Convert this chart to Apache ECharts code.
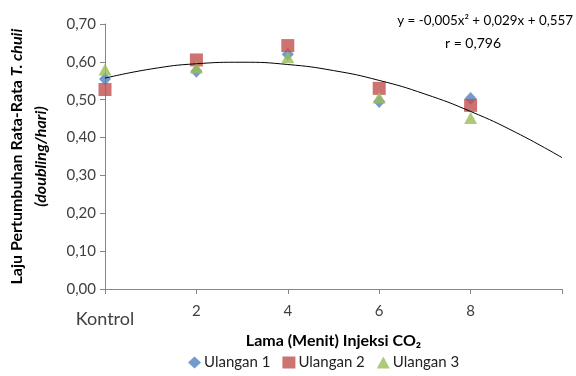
<!DOCTYPE html>
<html>
<head>
<meta charset="utf-8">
<script src="https://cdn.jsdelivr.net/npm/echarts@6/dist/echarts.min.js"></script>
<style>
  html, body { margin: 0; padding: 0; background: #fff; }
  #chart { width: 576px; height: 376px; }
</style>
</head>
<body>
<div id="chart"></div>
<script>
// menit injeksi CO2 (0 = Kontrol)
const minutes = [0, 2, 4, 6, 8]
const ulangan1 = [0.555, 0.575, 0.62, 0.495, 0.503]
const ulangan2 = [0.527, 0.605, 0.643, 0.53, 0.485]
const ulangan3 = [0.58, 0.585, 0.612, 0.506, 0.452]
// garis tren pada x = 0..10
const trendX = [0, 1, 2, 3, 4, 5, 6, 7, 8, 9, 10]
const trendY = [0.557, 0.581, 0.595, 0.599, 0.593, 0.577, 0.551, 0.515, 0.469, 0.413, 0.347]
const yTicks = [0, 0.1, 0.2, 0.3, 0.4, 0.5, 0.6, 0.7]

const font = 'Lato, "Open Sans", sans-serif'
const axisColor = '#868686'
const textColor = '#404040'

const pair = (xs, ys) => xs.map((x, i) => [x, ys[i]])

let option = {
  backgroundColor: '#fff',
  textStyle: { fontFamily: font },
  grid: { left: 105, right: 14, top: 24, bottom: 87 },
  legend: {
    bottom: 1,
    left: 183,
    itemGap: 12,
    itemWidth: 13,
    itemHeight: 12,
    textStyle: { color: '#222', fontSize: 15, fontFamily: font, padding: [0, 0, 0, -2] },
    data: [
      { name: 'Ulangan 1', icon: 'diamond' },
      { name: 'Ulangan 2', icon: 'rect' },
      { name: 'Ulangan 3', icon: 'triangle' },
    ],
  },
  xAxis: {
    type: 'value',
    min: 0,
    max: 10,
    interval: 2,
    name: 'Lama (Menit) Injeksi CO₂',
    nameLocation: 'middle',
    nameGap: 42,
    nameTextStyle: { color: '#000', fontSize: 16, fontWeight: 'bold', fontFamily: font },
    axisLine: { lineStyle: { color: axisColor } },
    axisTick: { show: true, length: 5, lineStyle: { color: axisColor } },
    splitLine: { show: false },
    axisLabel: {
      color: textColor,
      fontSize: 15,
      margin: 15,
      formatter: (v) => (v === 0 ? '{k|Kontrol}' : v === 10 ? '' : String(v)),
      rich: { k: { fontSize: 18, color: textColor, padding: [6, 0, 0, 0] } },
    },
  },
  yAxis: {
    type: 'value',
    min: yTicks[0],
    max: yTicks[yTicks.length - 1],
    interval: 0.1,
    name: '{b|Laju Pertumbuhan Rata-Rata }{bi|T. chuii}\n{bi|(doubling/hari)}',
    nameLocation: 'middle',
    nameRotate: 90,
    nameGap: 52,
    nameTextStyle: {
      rich: {
        b: { fontSize: 16, fontWeight: 'bold', color: '#000', fontFamily: font, lineHeight: 24 },
        bi: { fontSize: 16, fontWeight: 'bold', fontStyle: 'italic', color: '#000', fontFamily: font, lineHeight: 24 },
      },
    },
    axisLine: { show: true, lineStyle: { color: axisColor } },
    axisTick: { show: true, length: 5, lineStyle: { color: axisColor } },
    splitLine: { show: false },
    axisLabel: {
      color: textColor,
      fontSize: 15,
      margin: 9,
      formatter: (v) => v.toFixed(2).replace('.', ','),
    },
  },
  graphic: [
    {
      type: 'text',
      style: {
        x: 573, y: 21, text: 'y = -0,005x² + 0,029x + 0,557',
        fontSize: 13.4, fill: '#000', fontFamily: font, align: 'right', verticalAlign: 'middle',
      },
    },
    {
      type: 'text',
      style: {
        x: 473, y: 43, text: 'r = 0,796',
        fontSize: 14, fill: '#000', fontFamily: font, align: 'center', verticalAlign: 'middle',
      },
    },
  ],
  series: [
    {
      name: 'Ulangan 1',
      type: 'scatter',
      symbol: 'diamond',
      symbolSize: [12, 13],
      itemStyle: { color: '#4F81BD' },
      data: pair(minutes, ulangan1),
      z: 2,
    },
    {
      name: 'Ulangan 2',
      type: 'scatter',
      symbol: 'rect',
      symbolSize: 13,
      itemStyle: { color: '#C0504D' },
      data: pair(minutes, ulangan2),
      z: 3,
    },
    {
      name: 'Ulangan 3',
      type: 'scatter',
      symbol: 'triangle',
      symbolSize: [13, 12],
      itemStyle: { color: '#9BBB59' },
      data: pair(minutes, ulangan3),
      z: 4,
    },
    {
      name: 'Tren',
      type: 'line',
      smooth: true,
      symbol: 'none',
      lineStyle: { color: '#000', width: 1 },
      data: pair(trendX, trendY),
      silent: true,
      z: 5,
    },
  ],
}

var myChart = echarts.init(document.getElementById('chart'))
myChart.setOption(option)
</script>
</body>
</html>
